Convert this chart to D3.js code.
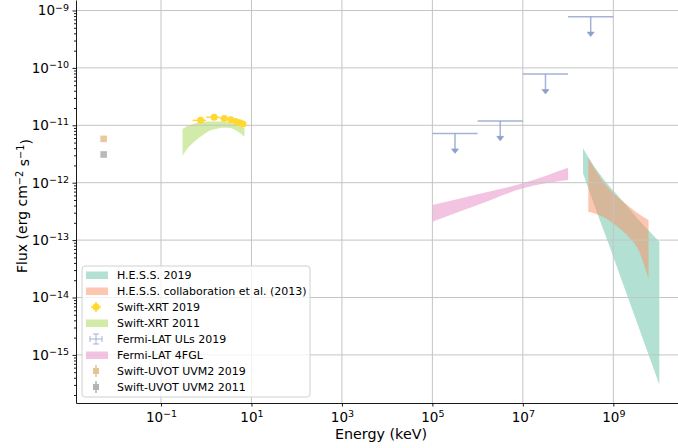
<!DOCTYPE html>
<html>
<head>
<meta charset="utf-8">
<script src="https://cdn.jsdelivr.net/npm/d3@7"></script>
<style>
  body { margin: 0; background: #fff; }
  svg { display: block; font-family: "DejaVu Sans", sans-serif; }
</style>
</head>
<body>
<svg width="678" height="448"><g id="vis"></g></svg>
<script>
// H.E.S.S. 2019 butterfly (keV, erg cm-2 s-1)
const hess2019E = [2.14e8, 3.9e8, 7.8e8, 1.54e9, 4.27e9, 1.04e10]
const hess2019Hi = [3.98e-12, 1.86e-12, 9.1e-13, 5.0e-13, 1.96e-13, 9.4e-14]
const hess2019Lo = [1.46e-12, 3.85e-13, 8.8e-14, 1.98e-14, 2.14e-15, 3.04e-16]

// H.E.S.S. collaboration et al. (2013)
const hess2013E = [2.8e8, 5.5e8, 1.1e9, 2.15e9, 3.6e9, 6e9]
const hess2013Hi = [2.66e-12, 1.14e-12, 6.1e-13, 3.94e-13, 2.88e-13, 2.24e-13]
const hess2013Lo = [3.13e-13, 2.63e-13, 1.83e-13, 1.15e-13, 6.7e-14, 2.1e-14]

// Swift-XRT 2019 points
const xrt2019E = [0.75, 1.5, 2.5, 3.5, 4.5, 5.5, 6.5]
const xrt2019EMin = [0.5, 1, 2, 3, 4, 5, 6]
const xrt2019EMax = [1, 2, 3, 4, 5, 6, 7]
const xrt2019F = [1.22e-11, 1.38e-11, 1.32e-11, 1.25e-11, 1.17e-11, 1.11e-11, 1.05e-11]

// Swift-XRT 2011 band
const xrt2011E = [0.3, 0.4, 0.56, 0.8, 1.1, 1.6, 2.2, 3.1, 4.3, 7]
const xrt2011Hi = [8.6e-12, 9.8e-12, 1.07e-11, 1.13e-11, 1.16e-11, 1.16e-11, 1.16e-11, 1.13e-11, 1.04e-11, 8.9e-12]
const xrt2011Lo = [2.95e-12, 4.1e-12, 5.3e-12, 6.6e-12, 7.8e-12, 8.6e-12, 9.1e-12, 9.1e-12, 8.4e-12, 6.3e-12]

// Fermi-LAT upper limits 2019
const fermiUlEMin = [1e5, 1e6, 1e7, 1e8]
const fermiUlEMax = [1e6, 1e7, 1e8, 1e9]
const fermiUlF = [7.2e-12, 1.19e-11, 7.8e-11, 7.8e-10]
const fermiUlDrop = 0.45 // arrow reaches this fraction of the limit

// Fermi-LAT 4FGL butterfly
const fgl4E = [1e5, 1e6, 1e7, 1e8]
const fgl4Hi = [4.08e-13, 6.3e-13, 9.8e-13, 1.82e-12]
const fgl4Lo = [2.09e-13, 4.08e-13, 8.0e-13, 1.11e-12]

// Swift-UVOT UVM2
const uvotE = [5.4e-3]
const uvot2019F = [5.8e-12]
const uvot2011F = [3.1e-12]

// axis ticks
const xTickExp = [-1, 1, 3, 5, 7, 9]
const yTickExp = [-9, -10, -11, -12, -13, -14, -15]

const svg = d3.select('svg')
const vis = svg.select('#vis')
const width = +svg.attr('width')
const height = +svg.attr('height')
const margin = { top: 0, right: 0, bottom: 45, left: 76 }

const xScale = d3.scaleLog()
  .domain([Math.pow(10, -2.879), Math.pow(10, 10.43)])
  .range([margin.left, width - margin.right])

const yScale = d3.scaleLog()
  .domain([Math.pow(10, -15.838), Math.pow(10, -8.817)])
  .range([height - margin.bottom, margin.top])

const colors = {
  hess2019: '#66c2a5',
  hess2013: '#fc8d62',
  fermiUl: '#8da0cb',
  fgl4: '#e78ac3',
  xrt2011: '#a6d854',
  xrt2019: '#ffd92f',
  uvot2019: '#e5c494',
  uvot2011: '#b3b3b3'
}

function bandPath (E, lo, hi) {
  return d3.area()
    .x((d, i) => xScale(E[i]))
    .y0((d, i) => yScale(lo[i]))
    .y1((d, i) => yScale(hi[i]))
    .curve(d3.curveMonotoneX)(E)
}

// filled bands
const bands = vis.append('g').attr('class', 'bands')
bands.append('path').attr('d', bandPath(hess2019E, hess2019Lo, hess2019Hi))
  .style('fill', colors.hess2019).style('fill-opacity', 0.5)
bands.append('path').attr('d', bandPath(hess2013E, hess2013Lo, hess2013Hi))
  .style('fill', colors.hess2013).style('fill-opacity', 0.5)
bands.append('path').attr('d', bandPath(xrt2011E, xrt2011Lo, xrt2011Hi))
  .style('fill', colors.xrt2011).style('fill-opacity', 0.5)
bands.append('path').attr('d', bandPath(fgl4E, fgl4Lo, fgl4Hi))
  .style('fill', colors.fgl4).style('fill-opacity', 0.5)

// grid
const grid = vis.append('g').attr('class', 'grid')
grid.selectAll('line.gx').data(xTickExp).join('line')
  .attr('x1', d => xScale(Math.pow(10, d))).attr('x2', d => xScale(Math.pow(10, d)))
  .attr('y1', yScale.range()[0]).attr('y2', yScale.range()[1])
  .style('stroke', '#c4c4c4').style('stroke-width', 1)
grid.selectAll('line.gy').data(yTickExp).join('line')
  .attr('y1', d => yScale(Math.pow(10, d))).attr('y2', d => yScale(Math.pow(10, d)))
  .attr('x1', xScale.range()[0]).attr('x2', xScale.range()[1])
  .style('stroke', '#c4c4c4').style('stroke-width', 1)

// Fermi-LAT upper limits
const ul = vis.append('g').attr('class', 'fermi-ul')
  .style('stroke', colors.fermiUl).style('stroke-opacity', 0.8).style('stroke-width', 1.5)
fermiUlF.forEach(function (f, i) {
  const xc = xScale(Math.sqrt(fermiUlEMin[i] * fermiUlEMax[i]))
  const y0 = yScale(f)
  const y1 = yScale(f * fermiUlDrop)
  ul.append('line').attr('x1', xScale(fermiUlEMin[i])).attr('x2', xScale(fermiUlEMax[i]))
    .attr('y1', y0).attr('y2', y0)
  ul.append('line').attr('x1', xc).attr('x2', xc).attr('y1', y0).attr('y2', y1 - 3)
  ul.append('path')
    .attr('d', `M${xc - 3.5},${y1 - 4.5}L${xc + 3.5},${y1 - 4.5}L${xc},${y1}Z`)
    .style('fill', colors.fermiUl).style('stroke-width', 0.8)
})

// Swift-XRT 2019 points
const xrt = vis.append('g').attr('class', 'xrt2019')
xrt.selectAll('line').data(xrt2019F).join('line')
  .attr('x1', (d, i) => xScale(xrt2019EMin[i]))
  .attr('x2', (d, i) => xScale(xrt2019EMax[i]))
  .attr('y1', d => yScale(d)).attr('y2', d => yScale(d))
  .style('stroke', colors.xrt2019).style('stroke-width', 1.5)
xrt.selectAll('circle').data(xrt2019F).join('circle')
  .attr('cx', (d, i) => xScale(xrt2019E[i]))
  .attr('cy', d => yScale(d))
  .attr('r', 3.5)
  .style('fill', colors.xrt2019)

// Swift-UVOT squares
const uv = vis.append('g').attr('class', 'uvot')
uv.selectAll('rect.u19').data(uvot2019F).join('rect')
  .attr('x', (d, i) => xScale(uvotE[i]) - 3.3).attr('y', d => yScale(d) - 3.3)
  .attr('width', 6.6).attr('height', 6.6)
  .style('fill', colors.uvot2019).style('fill-opacity', 0.9)
uv.selectAll('rect.u11').data(uvot2011F).join('rect')
  .attr('x', (d, i) => xScale(uvotE[i]) - 3.3).attr('y', d => yScale(d) - 3.3)
  .attr('width', 6.6).attr('height', 6.6)
  .style('fill', colors.uvot2011).style('fill-opacity', 0.9)

// axes
function supLabel (text, exp) {
  text.text(null)
  text.append('tspan').text('10')
  text.append('tspan')
    .attr('dy', '-0.5em')
    .style('font-size', '9.5px')
    .text(exp < 0 ? '\u2212' + (-exp) : String(exp))
}

const xAxis = vis.append('g')
  .attr('transform', `translate(0,${yScale.range()[0]})`)
  .call(d3.axisBottom(xScale)
    .tickValues(xTickExp.map(e => Math.pow(10, e)))
    .tickSize(3.5).tickSizeOuter(0).tickPadding(6))
xAxis.selectAll('.tick text').each(function (d, i) {
  supLabel(d3.select(this), xTickExp[i])
})

const yMinor = []
for (let e = -16; e <= -9; e++) {
  for (let k = 2; k <= 9; k++) {
    const v = k * Math.pow(10, e)
    if (v > yScale.domain()[0] && v < yScale.domain()[1]) yMinor.push(v)
  }
}
vis.append('g')
  .attr('transform', `translate(${xScale.range()[0]},0)`)
  .call(d3.axisLeft(yScale).tickValues(yMinor).tickSize(2).tickSizeOuter(0).tickFormat(''))
  .call(g => g.select('.domain').remove())

const yAxis = vis.append('g')
  .attr('transform', `translate(${xScale.range()[0]},0)`)
  .call(d3.axisLeft(yScale)
    .tickValues(yTickExp.map(e => Math.pow(10, e)))
    .tickSize(3.5).tickSizeOuter(0).tickPadding(3.5))
yAxis.selectAll('.tick text').each(function (d, i) {
  supLabel(d3.select(this), yTickExp[i])
})

vis.selectAll('.tick text').style('font-size', '13.5px').style('fill', '#000')
  .style('font-family', '"DejaVu Sans", sans-serif')
vis.selectAll('.domain, .tick line').style('stroke', '#000').style('stroke-width', 0.9)

// axis labels
vis.append('text')
  .attr('x', 381).attr('y', 439)
  .style('text-anchor', 'middle')
  .style('font-size', '14.3px')
  .text('Energy (keV)')

const yLabel = vis.append('text')
  .attr('transform', 'translate(27,206) rotate(-90)')
  .style('text-anchor', 'middle')
  .style('font-size', '14px')
yLabel.append('tspan').text('Flux (erg cm')
yLabel.append('tspan').attr('dy', '-0.45em').style('font-size', '9.8px').text('\u22122')
yLabel.append('tspan').attr('dy', '0.45em').text(' s')
yLabel.append('tspan').attr('dy', '-0.45em').style('font-size', '9.8px').text('\u22121')
yLabel.append('tspan').attr('dy', '0.45em').text(')')

// legend
const legendItems = [
  { label: 'H.E.S.S. 2019', kind: 'patch', color: colors.hess2019 },
  { label: 'H.E.S.S. collaboration et al. (2013)', kind: 'patch', color: colors.hess2013 },
  { label: 'Swift-XRT 2019', kind: 'point', color: colors.xrt2019 },
  { label: 'Swift-XRT 2011', kind: 'patch', color: colors.xrt2011 },
  { label: 'Fermi-LAT ULs 2019', kind: 'cross', color: colors.fermiUl },
  { label: 'Fermi-LAT 4FGL', kind: 'patch', color: colors.fgl4 },
  { label: 'Swift-UVOT UVM2 2019', kind: 'square', color: colors.uvot2019 },
  { label: 'Swift-UVOT UVM2 2011', kind: 'square', color: colors.uvot2011 }
]

const legend = vis.append('g').attr('class', 'legend')
legend.append('rect')
  .attr('x', 82).attr('y', 266).attr('width', 228).attr('height', 131).attr('rx', 3)
  .style('fill', '#fff').style('fill-opacity', 0.8)
  .style('stroke', '#d0d0d0').style('stroke-width', 1)

legendItems.forEach(function (item, i) {
  const cy = 275 + i * 16
  const g = legend.append('g')
  if (item.kind === 'patch') {
    g.append('rect').attr('x', 86).attr('y', cy - 3.5).attr('width', 22).attr('height', 7.5)
      .style('fill', item.color).style('fill-opacity', 0.5)
  } else if (item.kind === 'point') {
    g.append('line').attr('x1', 91).attr('x2', 101).attr('y1', cy).attr('y2', cy)
      .style('stroke', item.color).style('stroke-width', 1.5)
    g.append('line').attr('x1', 96).attr('x2', 96).attr('y1', cy - 5).attr('y2', cy + 5)
      .style('stroke', item.color).style('stroke-width', 1.5)
    g.append('circle').attr('cx', 96).attr('cy', cy).attr('r', 3.5).style('fill', item.color)
  } else if (item.kind === 'cross') {
    g.append('path')
      .attr('d', `M90,${cy}H102M96,${cy - 5}V${cy + 5}M90,${cy - 3}V${cy + 3}M102,${cy - 3}V${cy + 3}M93,${cy - 5}H99M93,${cy + 5}H99`)
      .style('stroke', item.color).style('stroke-opacity', 0.8).style('stroke-width', 1).style('fill', 'none')
  } else {
    g.append('line').attr('x1', 96).attr('x2', 96).attr('y1', cy - 6).attr('y2', cy + 6)
      .style('stroke', item.color).style('stroke-width', 1.5)
    g.append('rect').attr('x', 93).attr('y', cy - 3).attr('width', 6).attr('height', 6)
      .style('fill', item.color)
  }
  g.append('text').attr('x', 117).attr('y', cy)
    .attr('dy', '0.35em')
    .style('font-size', '11px')
    .text(item.label)
})
</script>
</body>
</html>
